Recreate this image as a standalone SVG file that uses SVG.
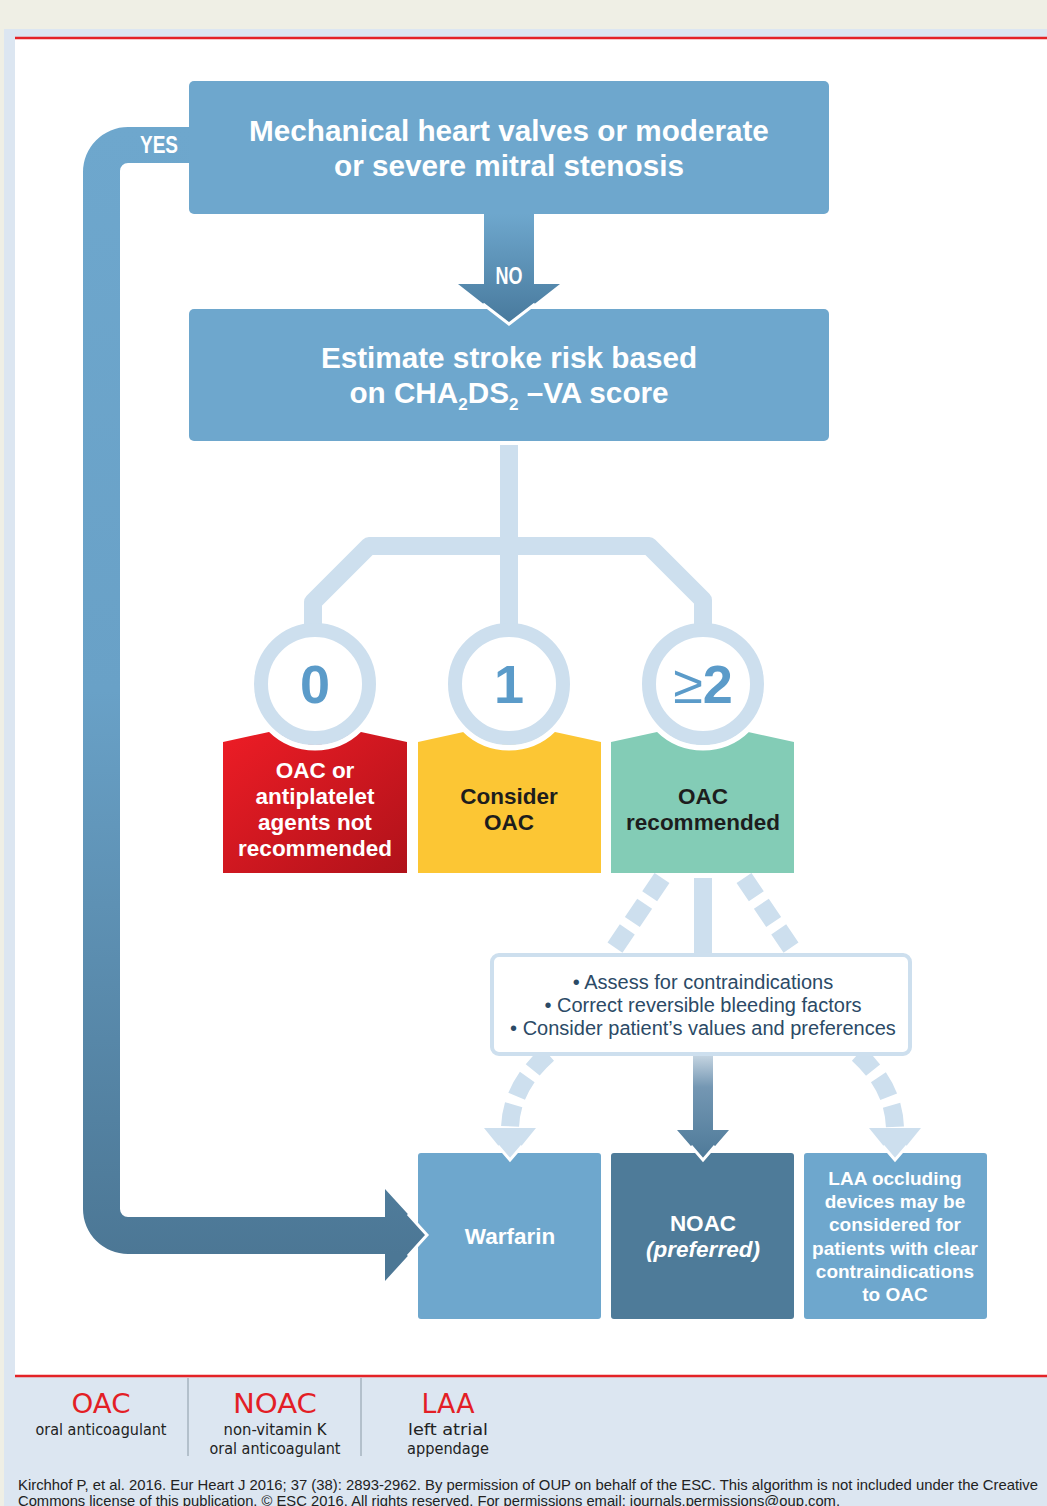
<svg xmlns="http://www.w3.org/2000/svg" width="1047" height="1506" viewBox="0 0 1047 1506">
<defs>
<style>
.bx{fill:#6ea7cd}
.dk{fill:#4e7b99}
.t{font-family:"Liberation Sans",Arial,sans-serif;font-weight:bold;text-anchor:middle}
.w{fill:#fff}
.k{fill:#1d1d1d}
.lc{fill:none;stroke:#cddfee;stroke-width:18}
.dash{stroke-dasharray:22 9}
.wo{fill:none;stroke:#fff;stroke-width:3}
.ring{fill:#fff;stroke:#cddfee;stroke-width:14}
.halo{fill:none;stroke:#fff;stroke-width:6}
.num{font-family:"Liberation Sans",Arial,sans-serif;font-weight:bold;text-anchor:middle;fill:#5b9bc9;font-size:54px}
.bul{font-family:"Liberation Sans",Arial,sans-serif;text-anchor:middle;fill:#2b4a66;font-size:20px}
.ab{font-family:"Liberation Sans Narrow","DejaVu Sans Condensed","Liberation Sans",sans-serif;text-anchor:middle;fill:#e31e26;font-size:27px}
.lg{font-family:"Liberation Sans Narrow","DejaVu Sans Condensed","Liberation Sans",sans-serif;text-anchor:middle;fill:#222;font-size:15.5px}
.ft{font-family:"Liberation Sans Narrow","Liberation Sans",Arial,sans-serif;fill:#222;font-size:14.5px}
</style>
<linearGradient id="gYes" gradientUnits="userSpaceOnUse" x1="0" y1="127" x2="0" y2="1254">
<stop offset="0" stop-color="#6ea7cd"/><stop offset="0.5" stop-color="#69a1c7"/><stop offset="1" stop-color="#4c7795"/>
</linearGradient>
<linearGradient id="gNo" gradientUnits="userSpaceOnUse" x1="0" y1="214" x2="0" y2="324">
<stop offset="0" stop-color="#6ea7cd"/><stop offset="1" stop-color="#48799c"/>
</linearGradient>
<linearGradient id="gRed" x1="0" y1="0" x2="1" y2="1">
<stop offset="0" stop-color="#ef1d26"/><stop offset="1" stop-color="#b0121a"/>
</linearGradient>
<linearGradient id="gMid" gradientUnits="userSpaceOnUse" x1="0" y1="1056" x2="0" y2="1160">
<stop offset="0" stop-color="#c3d3e0"/><stop offset="0.3" stop-color="#7497b3"/><stop offset="1" stop-color="#4d7998"/>
</linearGradient>
</defs>

<rect width="1047" height="1506" fill="#efefe5"/>
<rect x="4" y="29" width="1043" height="1477" fill="#dce6f1"/>
<rect x="15" y="38" width="1032" height="1338" fill="#fff"/>
<line x1="15" y1="38" x2="1047" y2="38" stroke="#e42327" stroke-width="2.5"/>
<line x1="15" y1="1376" x2="1047" y2="1376" stroke="#e42327" stroke-width="2.5"/>

<g id="node-mechanical">
<rect class="bx" x="189" y="81" width="640" height="133" rx="5"/>
<text class="t w" font-size="29.7" x="509" y="141">Mechanical heart valves or moderate</text>
<text class="t w" font-size="29.7" x="509" y="176">or severe mitral stenosis</text>
</g>

<g id="node-estimate">
<rect class="bx" x="189" y="309" width="640" height="132" rx="5"/>
<text class="t w" font-size="29.7" x="509" y="368">Estimate stroke risk based</text>
<text class="t w" font-size="29.7" x="509" y="403">on CHA<tspan dy="7" font-size="17">2</tspan><tspan dy="-7">DS</tspan><tspan dy="7" font-size="17">2</tspan><tspan dy="-7"> –VA score</tspan></text>
</g>

<g id="node-score0-box">
<path d="M223,742 L315,722 L407,742 V873 H223 Z" fill="url(#gRed)"/>
<text class="t w" font-size="22.5" x="315" y="778">OAC or</text>
<text class="t w" font-size="22.5" x="315" y="804">antiplatelet</text>
<text class="t w" font-size="22.5" x="315" y="830">agents not</text>
<text class="t w" font-size="22.5" x="315" y="856">recommended</text>
</g>

<g id="node-score1-box">
<path d="M418,742 L509,722 L601,742 V873 H418 Z" fill="#fcc634"/>
<text class="t k" font-size="22.5" x="509" y="804">Consider</text>
<text class="t k" font-size="22.5" x="509" y="830">OAC</text>
</g>

<g id="node-score2-box">
<path d="M611,742 L703,722 L794,742 V873 H611 Z" fill="#83ccb6"/>
<text class="t k" font-size="22.5" x="703" y="804">OAC</text>
<text class="t k" font-size="22.5" x="703" y="830">recommended</text>
</g>

<g id="node-warfarin">
<rect class="bx" x="418" y="1153" width="183" height="166" rx="3"/>
<text class="t w" font-size="22.5" x="510" y="1244">Warfarin</text>
</g>

<g id="node-noac">
<rect class="dk" x="611" y="1153" width="183" height="166" rx="3"/>
<text class="t w" font-size="22.5" x="703" y="1231">NOAC</text>
<text class="t w" font-size="22.5" x="703" y="1257" font-weight="normal" font-style="italic">(preferred)</text>
</g>

<g id="node-laa">
<rect class="bx" x="804" y="1153" width="183" height="166" rx="3"/>
<text class="t w" font-size="19" x="895" y="1185">LAA occluding</text>
<text class="t w" font-size="19" x="895" y="1208">devices may be</text>
<text class="t w" font-size="19" x="895" y="1231">considered for</text>
<text class="t w" font-size="19" x="895" y="1255">patients with clear</text>
<text class="t w" font-size="19" x="895" y="1278">contraindications</text>
<text class="t w" font-size="19" x="895" y="1301">to OAC</text>
</g>

<g id="connectors">
<path d="M189,127 H128 A45,45 0 0 0 83,172 V1209 A45,45 0 0 0 128,1254 H385 V1281 L427,1235 L385,1189 V1217 H128 A8,8 0 0 1 120,1209 V171 A8,8 0 0 1 128,163 H189 Z" fill="url(#gYes)"/>
<polyline class="wo" points="408,1214 427,1235 408,1256"/>
<text class="t w" font-size="24" x="159" y="153" textLength="38" lengthAdjust="spacingAndGlyphs">YES</text>
<path d="M484,214 H534 V284 H560 L509,324 L458,284 H484 Z" fill="url(#gNo)"/>
<polyline class="wo" points="535,304 509,324 483,304"/>
<text class="t w" font-size="23" x="509" y="284" textLength="27" lengthAdjust="spacingAndGlyphs">NO</text>
<path class="lc" d="M509,445 V625"/>
<path class="lc" d="M313,625 V602 L369,546 H649 L703,600 V625" stroke-linejoin="round"/>
<path class="lc" d="M703,878 V957"/>
<path class="lc dash" d="M662,878 L610,955"/>
<path class="lc dash" d="M744,878 L796,955"/>
<path class="lc dash" d="M548,1054 Q510,1088 510,1130"/>
<polygon points="484,1128 536,1128 510,1160" fill="#cddfee"/>
<polyline class="wo" points="498,1146 510,1160 522,1146"/>
<path class="lc dash" d="M858,1054 Q895,1088 895,1130"/>
<polygon points="869,1128 921,1128 895,1160" fill="#cddfee"/>
<polyline class="wo" points="883,1146 895,1160 907,1146"/>
<path d="M693,1054 H713 V1130 H729 L703,1160 L677,1130 H693 Z" fill="url(#gMid)"/>
<polyline class="wo" points="691,1146 703,1160 715,1146"/>
</g>

<g id="node-considerations">
<rect x="492" y="955" width="418" height="99" rx="7" fill="#fff" stroke="#cddfee" stroke-width="4"/>
<text class="bul" x="703" y="989">•  Assess for contraindications</text>
<text class="bul" x="703" y="1012">•  Correct reversible bleeding factors</text>
<text class="bul" x="703" y="1035">•  Consider patient’s values and preferences</text>
</g>

<g id="node-score0">
<path class="halo" d="M251.5,684 A63.5,63.5 0 0 0 378.5,684"/>
<circle class="ring" cx="315" cy="684" r="54"/>
<text class="num" x="315" y="703">0</text>
</g>
<g id="node-score1">
<path class="halo" d="M445.5,684 A63.5,63.5 0 0 0 572.5,684"/>
<circle class="ring" cx="509" cy="684" r="54"/>
<text class="num" x="509" y="703">1</text>
</g>
<g id="node-score2">
<path class="halo" d="M639.5,684 A63.5,63.5 0 0 0 766.5,684"/>
<circle class="ring" cx="703" cy="684" r="54"/>
<text class="num" x="703" y="703"><tspan font-weight="normal">≥</tspan>2</text>
</g>

<g id="legend">
<line x1="188" y1="1378" x2="188" y2="1456" stroke="#8a9aa6" stroke-width="1"/>
<line x1="361" y1="1378" x2="361" y2="1456" stroke="#8a9aa6" stroke-width="1"/>
<text class="ab" x="101" y="1413" textLength="59" lengthAdjust="spacingAndGlyphs">OAC</text>
<text class="lg" x="101" y="1435" textLength="131" lengthAdjust="spacingAndGlyphs">oral anticoagulant</text>
<text class="ab" x="275" y="1413" textLength="84" lengthAdjust="spacingAndGlyphs">NOAC</text>
<text class="lg" x="275" y="1435" textLength="103" lengthAdjust="spacingAndGlyphs">non-vitamin K</text>
<text class="lg" x="275" y="1454" textLength="131" lengthAdjust="spacingAndGlyphs">oral anticoagulant</text>
<text class="ab" x="448" y="1413" textLength="53" lengthAdjust="spacingAndGlyphs">LAA</text>
<text class="lg" x="448" y="1435" textLength="80" lengthAdjust="spacingAndGlyphs">left atrial</text>
<text class="lg" x="448" y="1454" textLength="82" lengthAdjust="spacingAndGlyphs">appendage</text>
<text class="ft" x="18" y="1490" textLength="1020" lengthAdjust="spacingAndGlyphs">Kirchhof P, et al. 2016. Eur Heart J 2016; 37 (38): 2893-2962. By permission of OUP on behalf of the ESC. This algorithm is not included under the Creative</text>
<text class="ft" x="18" y="1506" textLength="822" lengthAdjust="spacingAndGlyphs">Commons license of this publication. © ESC 2016. All rights reserved. For permissions email: journals.permissions@oup.com.</text>
</g>
</svg>
